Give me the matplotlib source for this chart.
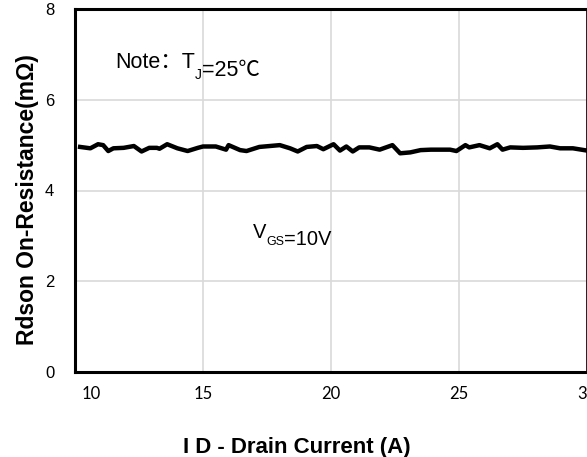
"""
Rdson vs drain current, recreated from a datasheet chart.
"""
import matplotlib
matplotlib.use('Agg')
import matplotlib.pyplot as plt
from matplotlib.transforms import ScaledTranslation

# drain current (A) and on-resistance (mOhm)
i_d = [10.2, 10.6, 10.9, 11.1, 11.3, 11.5, 11.9, 12.3, 12.6, 12.9, 13.2, 13.3,
       13.6, 14.0, 14.4, 14.8, 15.0, 15.5, 15.9, 16.0, 16.45, 16.7, 17.2, 18.0,
       18.4, 18.7, 19.05, 19.45, 19.7, 20.1, 20.35, 20.6, 20.85, 21.1, 21.5,
       21.9, 22.4, 22.7, 23.1, 23.5, 23.9, 24.65, 24.9, 25.25, 25.4, 25.8, 26.2,
       26.5, 26.7, 27.0, 27.5, 28.05, 28.55, 28.95, 29.45, 30.0]
rdson = [4.96, 4.93, 5.02, 5.00, 4.87, 4.93, 4.94, 4.98, 4.86, 4.94, 4.94, 4.92,
         5.02, 4.93, 4.87, 4.94, 4.97, 4.97, 4.90, 5.00, 4.89, 4.87, 4.96, 5.00,
         4.93, 4.86, 4.96, 4.98, 4.91, 5.02, 4.88, 4.97, 4.86, 4.95, 4.95,
         4.90, 5.00, 4.82, 4.84, 4.89, 4.90, 4.90, 4.87, 5.00, 4.95, 5.00, 4.93,
         5.02, 4.90, 4.95, 4.94, 4.95, 4.97, 4.93, 4.93, 4.88]

x_ticks = [10, 15, 20, 25, 30]
y_ticks = [0, 2, 4, 6, 8]

plt.rcParams['font.family'] = ['Liberation Sans', 'Noto Sans CJK SC', 'DejaVu Sans']

fig = plt.figure(figsize=(5.87, 4.57), dpi=100)
ax = fig.add_axes([75 / 587, 1 - 372 / 457, 512 / 587, 363 / 457])

ax.plot(i_d, rdson, color='k', linewidth=3.2, solid_joinstyle='round', zorder=3)

ax.set_xlim(10, 30)
ax.set_ylim(0, 8)
ax.set_xticks(x_ticks)
ax.set_yticks(y_ticks)
ax.grid(True, color='#d9d9d9', linewidth=1.2)
ax.set_axisbelow(True)
ax.tick_params(length=0)
ax.tick_params(axis='x', pad=10, labelsize=12)
ax.tick_params(axis='y', pad=15, labelsize=12)
for lab in ax.get_xticklabels():
    lab.set_family(['Lato', 'Liberation Sans'])
# first x label sits a bit right of the axis in the original
first = ax.get_xticklabels()[0]
first.set_transform(first.get_transform() + ScaledTranslation(16 / 100, 0, fig.dpi_scale_trans))

for side in ['left', 'bottom', 'top']:
    ax.spines[side].set_linewidth(2.2)
ax.spines['right'].set_linewidth(1.2)

ax.set_xlabel('I D - Drain Current (A)', fontsize=16, fontweight='bold')
ax.xaxis.set_label_coords(0.434, -0.180)
ax.set_ylabel('Rdson On-Resistance(mΩ)', fontsize=16.5, fontweight='bold')
ax.yaxis.set_label_coords(-0.070, 0.474)

# Note: TJ=25C
t1 = ax.text(11.56, 6.70, 'Note：T', fontsize=15.5, va='baseline')
t2 = ax.annotate('J', xy=(1, 0), xycoords=t1, xytext=(0, -4), textcoords='offset points',
                 fontsize=10, va='baseline')
ax.annotate('=25℃', xy=(1, 0), xycoords=t2, xytext=(0, 4), textcoords='offset points',
            fontsize=15.5, va='baseline')

# VGS=10V
v1 = ax.text(16.95, 2.95, 'V', fontsize=14.5, va='baseline')
v2 = ax.annotate('GS', xy=(1, 0), xycoords=v1, xytext=(0, -2), textcoords='offset points',
                 fontsize=9, va='baseline')
ax.annotate('=10V', xy=(1, 0), xycoords=v2, xytext=(0, 2), textcoords='offset points',
            fontsize=14.5, va='baseline')

plt.savefig('out.png', dpi=100)
